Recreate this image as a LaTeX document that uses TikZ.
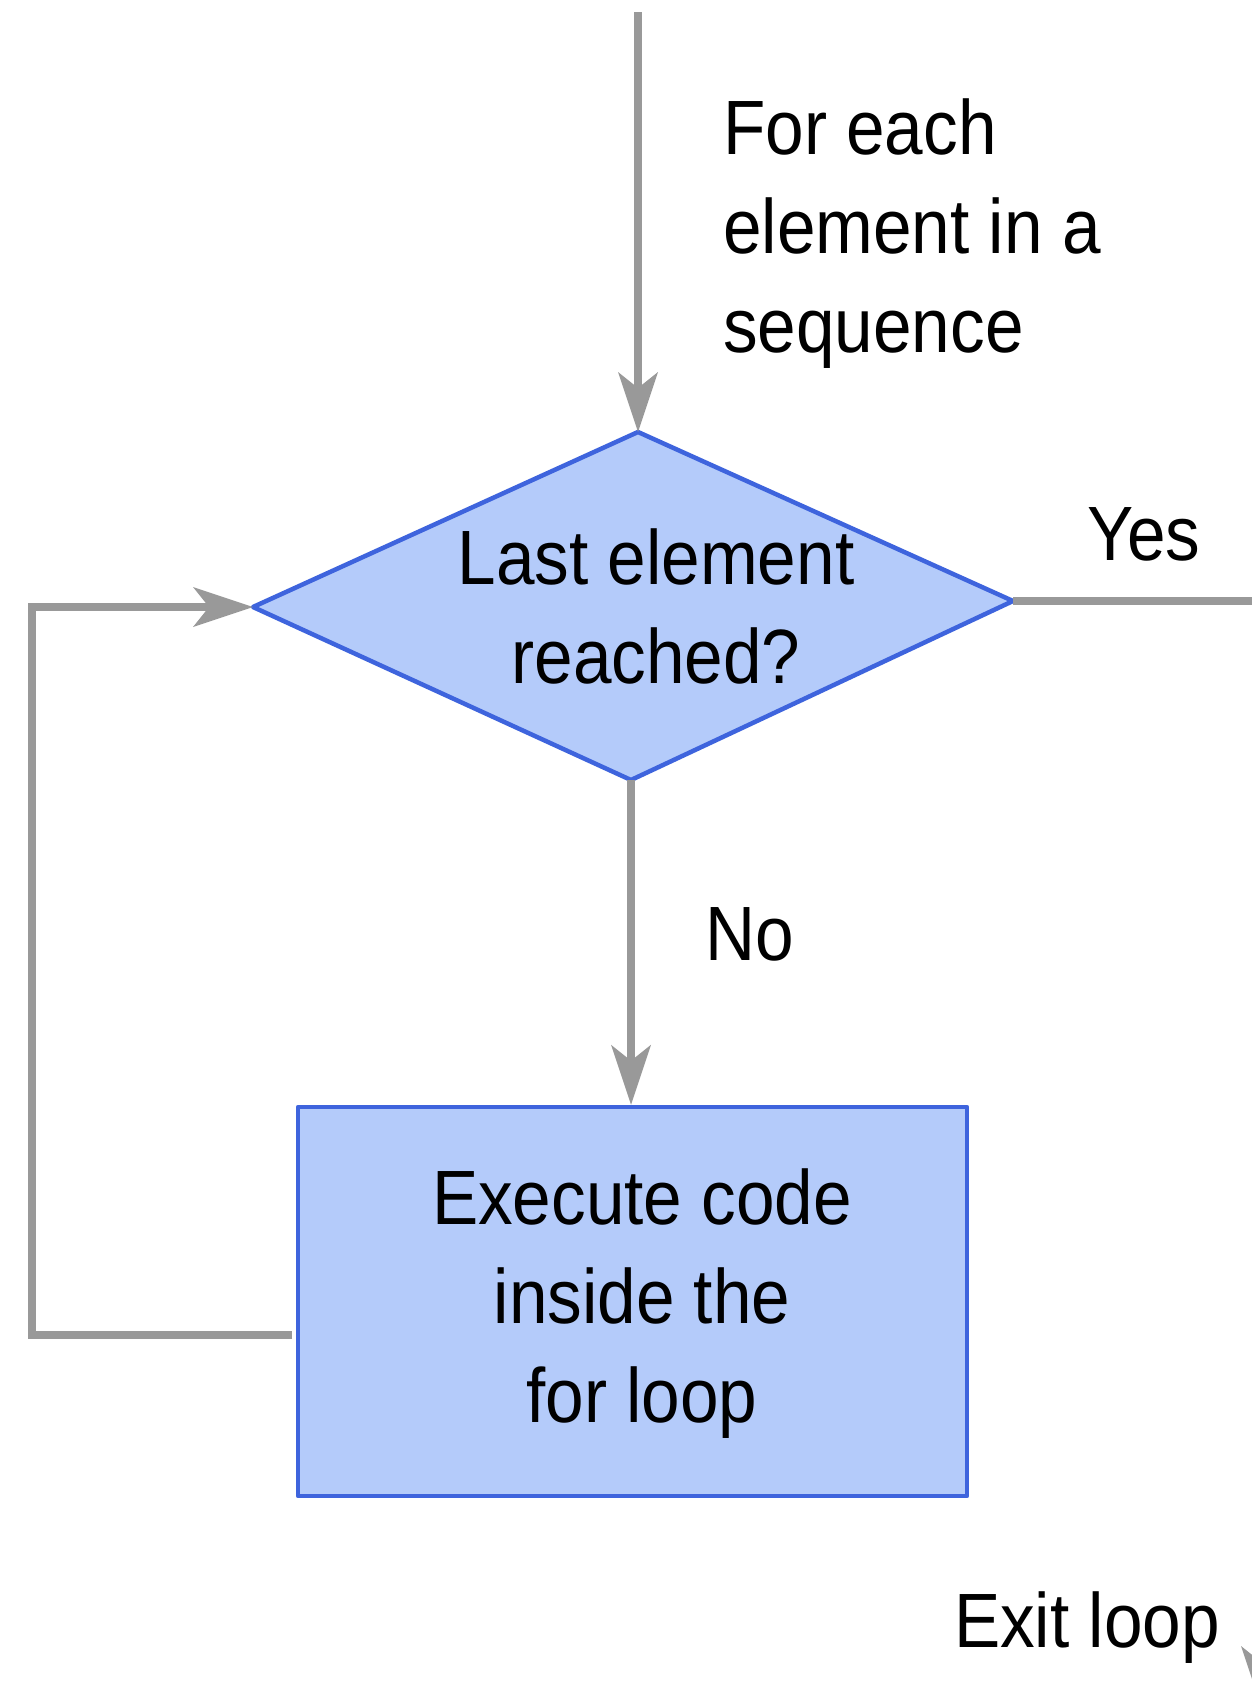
\documentclass[tikz,border=0pt]{standalone}
\usepackage{fontspec}
\setmainfont[FakeStretch=0.9]{Liberation Sans}
\usetikzlibrary{arrows.meta}
\definecolor{fillblue}{RGB}{180,203,250}
\definecolor{edgeblue}{RGB}{62,100,221}
\definecolor{linegray}{RGB}{153,153,153}
\tikzset{
  shapeline/.style={draw=edgeblue, fill=fillblue, line width=4.5pt, line join=round},
  flow/.style={draw=linegray, line width=7.5pt},
  flowarrow/.style={flow, -{Stealth[length=60pt,width=40pt,inset=16pt,line width=0pt]}},
  lbl/.style={inner sep=0pt, font=\fontsize{77}{99}\selectfont, text=black}
}
\begin{document}
\begin{tikzpicture}[x=1pt,y=-1pt]
\useasboundingbox (0,0) rectangle (1252,1700);
\clip (0,0) rectangle (1252,1700);
\fill[white] (0,0) rectangle (1252,1700);

% diamond corners
\coordinate (dT) at (638,432);
\coordinate (dR) at (1013,601);
\coordinate (dB) at (631,780);
\coordinate (dL) at (253,607);
\draw[shapeline] (dT) -- (dR) -- (dB) -- (dL) -- cycle;
\node[lbl, align=center, anchor=base] (qtext) at (656,683) {Last element\\reached?};

% process box
\node[shapeline, minimum width=669pt, minimum height=389pt, inner sep=0pt] (exec) at (632.5,1301.5) {};
\node[lbl, align=center, anchor=base] (exectext) at (642,1422) {Execute code\\inside the\\for loop};

% helper coordinates
\coordinate (start) at (638,12);
\coordinate (loopstart) at (292,1335);
\coordinate (loopbot) at (32,1335);
\coordinate (yesend) at (1270,601);
\coordinate (exittop) at (1261,1500);
\coordinate (exitend) at (1261,1706);

% connectors
\draw[flowarrow] (start) -- (dT);
\draw[flowarrow] (dB) -- (dB |- exec.north);
\draw[flowarrow] (loopstart) -- (loopbot) |- (dL);
\draw[flow] (dR) -- (yesend);
\draw[flowarrow] (exittop) -- (exitend);

% labels
\node[lbl, align=left, anchor=base west] (seqtext) at (723,352) {For each\\element in a\\sequence};
\node[lbl, anchor=base] (notext) at (750,960) {No};
\node[lbl, anchor=base] (yestext) at (1144,560) {Yes};
\node[lbl, anchor=base] (exittext) at (1087,1647) {Exit loop};
\end{tikzpicture}
\end{document}
